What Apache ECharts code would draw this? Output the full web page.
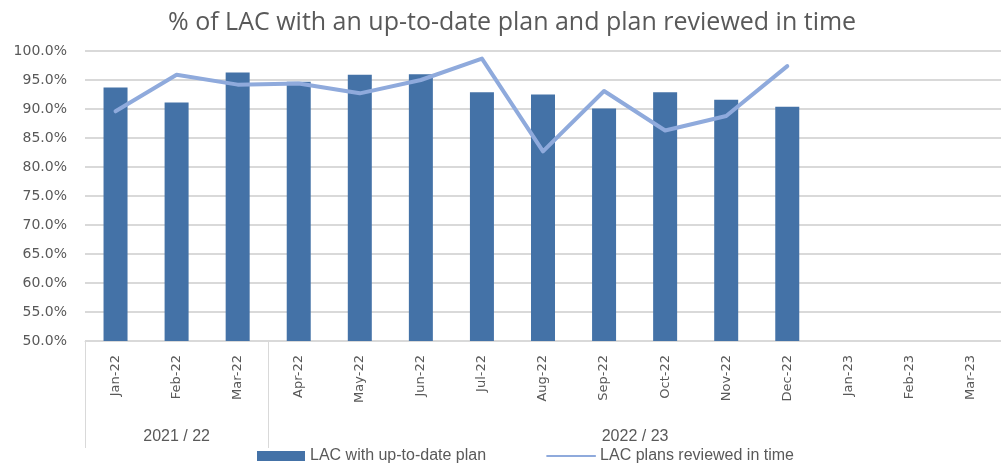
<!DOCTYPE html>
<html>
<head>
<meta charset="utf-8">
<script src="https://cdn.jsdelivr.net/npm/echarts@6/dist/echarts.min.js"></script>
<style>
  html, body { margin: 0; padding: 0; background: #fff; overflow: hidden; }
  #main { width: 1001px; height: 470px; }
</style>
</head>
<body>
<div id="main"></div>
<script>
var months = ['Jan-22', 'Feb-22', 'Mar-22', 'Apr-22', 'May-22', 'Jun-22', 'Jul-22',
              'Aug-22', 'Sep-22', 'Oct-22', 'Nov-22', 'Dec-22', 'Jan-23', 'Feb-23', 'Mar-23'];
// % LAC with up-to-date plan (bars)
var upToDate = [93.7, 91.1, 96.3, 94.7, 95.9, 96.0, 92.9, 92.5, 90.1, 92.9, 91.6, 90.4, null, null, null];
// % LAC plans reviewed in time (line)
var reviewed = [89.6, 95.9, 94.2, 94.4, 92.7, 95.0, 98.7, 82.7, 93.1, 86.3, 88.8, 97.4, null, null, null];
// financial year groups: label and the month index it starts at
var yearLabels = ['2021 / 22', '2022 / 23'];
var yearStart = [0, 3];

var grey = '#595959';
var chart = echarts.init(document.getElementById('main'));

var option = {
  animation: false,
  title: {
    text: '% of LAC with an up-to-date plan and plan reviewed in time',
    left: 163,
    top: 5,
    textStyle: { fontFamily: 'Open Sans', fontSize: 25, fontWeight: 'normal', color: grey }
  },
  legend: {
    bottom: 1,
    left: 252,
    itemWidth: 48,
    itemHeight: 10,
    itemGap: 60,
    textStyle: { fontFamily: 'Liberation Sans', fontSize: 16, color: grey },
    data: [
      { name: 'LAC with up-to-date plan', icon: 'rect' },
      { name: 'LAC plans reviewed in time', itemStyle: { opacity: 0 } }
    ]
  },
  grid: { left: 85, right: -7, top: 51, bottom: 129 },
  xAxis: [{
    type: 'category',
    data: months,
    axisLine: { lineStyle: { color: '#d9d9d9', width: 1 } },
    axisTick: { show: false },
    axisLabel: {
      rotate: 90, interval: 0, margin: 14,
      fontFamily: 'DejaVu Sans', fontSize: 13, color: grey
    }
  }, {
    type: 'category',
    data: months,
    position: 'bottom',
    axisLine: { show: false },
    axisTick: {
      show: true,
      length: 107,
      interval: function (i) { return yearStart.indexOf(i) >= 0; },
      lineStyle: { color: '#d9d9d9' }
    },
    axisLabel: {
      interval: 0,
      margin: 88,
      fontFamily: 'Liberation Sans', fontSize: 16, color: grey,
      formatter: function (v, i) {
        if (i === 1) return yearLabels[0];
        if (i === 8) return '{shift|' + yearLabels[1] + '}';
        return '';
      },
      rich: { shift: { padding: [0, 0, 0, 62], fontFamily: 'Liberation Sans', fontSize: 16, color: grey } }
    }
  }],
  yAxis: {
    type: 'value',
    min: 50,
    max: 100,
    interval: 5,
    axisLine: { show: false },
    axisTick: { show: false },
    splitLine: { lineStyle: { color: '#d9d9d9', width: 2 } },
    axisLabel: {
      margin: 18,
      fontFamily: 'DejaVu Sans', fontSize: 14, color: grey,
      formatter: function (v) { return v.toFixed(1) + '%'; }
    }
  },
  series: [{
    name: 'LAC with up-to-date plan',
    type: 'bar',
    data: upToDate,
    barWidth: 24,
    itemStyle: { color: '#4472a7' }
  }, {
    name: 'LAC plans reviewed in time',
    type: 'line',
    data: reviewed,
    showSymbol: false,
    symbol: 'none',
    itemStyle: { color: '#8faadc' },
    lineStyle: { color: '#8faadc', width: 4, cap: 'round', join: 'round' },
    z: 3
  }]
};
chart.setOption(option);
</script>
</body>
</html>
